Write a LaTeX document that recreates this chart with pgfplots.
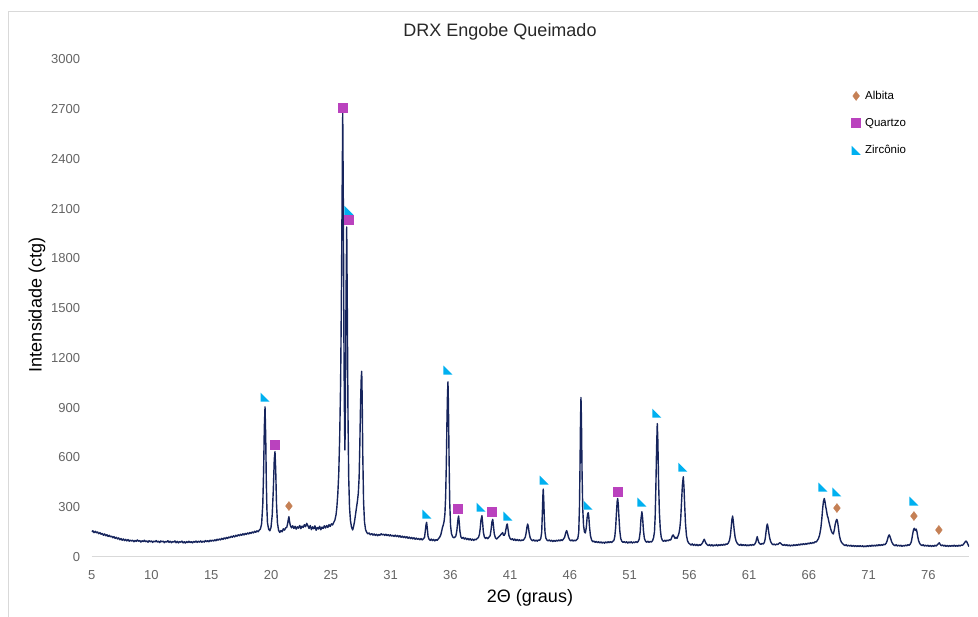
\documentclass[border=0pt]{standalone}
\usepackage{fontspec}
\setmainfont{Liberation Sans}
\usepackage{pgfplots}
\pgfplotsset{compat=1.18}
\usetikzlibrary{plotmarks}
\definecolor{lineblue}{RGB}{22,36,92}
\definecolor{albita}{RGB}{197,128,85}
\definecolor{quartzo}{RGB}{186,66,190}
\definecolor{zirc}{RGB}{0,176,240}
\definecolor{tickgray}{RGB}{100,100,100}
\definecolor{bordergray}{RGB}{217,217,217}
\definecolor{titlegray}{RGB}{40,40,40}
\pgfdeclareplotmark{rtri}{%
  \pgfpathmoveto{\pgfqpoint{-\pgfplotmarksize}{\pgfplotmarksize}}%
  \pgfpathlineto{\pgfqpoint{-\pgfplotmarksize}{-\pgfplotmarksize}}%
  \pgfpathlineto{\pgfqpoint{\pgfplotmarksize}{-\pgfplotmarksize}}%
  \pgfpathclose\pgfusepathqfill}
\begin{document}
\begin{tikzpicture}[x=1pt,y=1pt]
\useasboundingbox (0,0) rectangle (978,617);
\draw[bordergray, line width=1pt] (8,-5) -- (8,605) -- (990,605);
\node[font=\fontsize{18}{21}\selectfont, text=titlegray] at (500,585) {DRX Engobe Queimado};
\node[font=\fontsize{18}{21}\selectfont] at (530,19) {2Θ (graus)};
\node[font=\fontsize{18}{21}\selectfont, rotate=90] at (37,312) {Intensidade (ctg)};
\begin{axis}[
  at={(91.7pt,60pt)}, anchor=south west, scale only axis,
  width=877.3pt, height=497.5pt,
  xmin=5, xmax=79.86, ymin=0, ymax=3000,
  axis line style={draw=none},
  major tick length=0pt,
  xtick={5,10.1,15.2,20.3,25.4,30.5,35.6,40.7,45.8,50.9,56,61.1,66.2,71.3,76.4},
  xticklabels={5,10,15,20,25,31,36,41,46,51,56,61,66,71,76},
  ytick={0,300,600,900,1200,1500,1800,2100,2400,2700,3000},
  /pgf/number format/1000 sep={},
  /pgf/number format/assume math mode=true,
  ticklabel style={font=\fontsize{13}{15}\selectfont, text=tickgray},
  xticklabel style={yshift=-10pt},
  yticklabel style={xshift=-8pt},
  legend style={at={(0.866,0.94)}, anchor=north west, draw=none, fill=none,
    font=\fontsize{11.5}{13}\selectfont, row sep=14.5pt, column sep=3pt, inner sep=0pt,
    nodes={inner sep=1.5pt}},
  legend cell align=left,
  legend image code/.code={\draw[#1] plot coordinates {(0pt,0pt)};},
]
\draw[bordergray, line width=1pt] (rel axis cs:0,0) -- (rel axis cs:1,0);
\addplot[lineblue, line width=1.4pt, line join=round, forget plot] coordinates {
(5.0,152)(5.1,158)(5.2,147)(5.3,155)(5.4,146)(5.5,151)(5.6,140)(5.7,147)(5.8,137)(5.9,142)
(6.0,131)(6.1,139)(6.2,128)(6.3,134)(6.4,124)(6.5,131)(6.6,121)(6.7,126)(6.8,116)(6.9,123)
(7.0,112)(7.1,119)(7.2,109)(7.3,115)(7.4,104)(7.5,111)(7.6,101)(7.7,109)(7.8,99)(7.9,106)
(8.0,97)(8.1,105)(8.2,95)(8.3,102)(8.4,96)(8.5,101)(8.6,92)(8.7,100)(8.8,94)(8.9,103)
(9.0,95)(9.1,99)(9.2,90)(9.3,98)(9.4,93)(9.5,101)(9.6,92)(9.7,97)(9.8,89)(9.9,98)
(10.0,92)(10.1,97)(10.2,88)(10.3,96)(10.4,91)(10.5,99)(10.6,90)(10.7,95)(10.8,87)(10.9,97)
(11.0,91)(11.1,96)(11.2,86)(11.3,94)(11.4,90)(11.5,98)(11.6,88)(11.7,95)(11.8,86)(11.9,93)
(12.0,90)(12.1,97)(12.2,86)(12.3,94)(12.4,85)(12.5,93)(12.6,89)(12.7,96)(12.8,85)(12.9,92)
(13.0,84)(13.1,93)(13.2,87)(13.3,95)(13.4,87)(13.5,93)(13.6,85)(13.7,94)(13.8,89)(13.9,96)
(14.0,88)(14.1,95)(14.2,89)(14.3,97)(14.4,89)(14.5,96)(14.6,90)(14.7,99)(14.8,92)(14.9,98)
(15.0,92)(15.1,101)(15.2,95)(15.3,102)(15.4,96)(15.5,104)(15.6,98)(15.7,107)(15.8,101)(15.9,109)
(16.0,103)(16.1,112)(16.2,106)(16.3,115)(16.4,109)(16.5,118)(16.6,112)(16.7,121)(16.8,116)(16.9,125)
(17.0,119)(17.1,128)(17.2,121)(17.3,131)(17.4,125)(17.5,134)(17.6,128)(17.7,137)(17.8,131)(17.9,140)
(18.0,133)(18.1,142)(18.2,136)(18.3,145)(18.4,139)(18.5,148)(18.6,142)(18.7,151)(18.8,145)(18.9,155)
(19.0,149)(19.1,158)(19.2,152)(19.3,162)(19.4,170)
(19.5,200)(19.6,320)(19.67,520)(19.73,780)(19.79,905)(19.85,720)(19.9,450)(19.95,290)(20.0,205)
(20.1,168)(20.2,158)(20.3,178)(20.4,250)(20.5,410)(20.58,590)(20.64,635)(20.7,530)(20.77,320)
(20.85,205)(20.95,160)(21.05,148)(21.15,160)(21.25,152)(21.35,170)(21.45,162)(21.55,175)(21.65,180)
(21.73,205)(21.78,228)(21.83,243)(21.88,215)(21.95,190)(22.05,176)(22.15,188)(22.25,172)(22.35,185)
(22.45,168)(22.55,182)(22.65,174)(22.75,190)(22.85,171)(22.95,186)(23.05,178)(23.15,195)(23.25,183)
(23.35,203)(23.45,188)(23.55,172)(23.65,190)(23.75,165)(23.85,182)(23.95,170)(24.05,188)(24.15,161)
(24.25,178)(24.35,169)(24.45,185)(24.55,164)(24.65,180)(24.75,172)(24.85,188)(24.95,175)(25.05,190)
(25.15,178)(25.25,195)(25.35,184)(25.45,200)(25.55,193)(25.65,208)(25.75,222)(25.85,255)(25.92,300)
(26.0,380)(26.08,500)(26.16,720)(26.24,1050)(26.3,1500)(26.36,2100)(26.42,2675)(26.47,2150)
(26.53,1200)(26.58,760)(26.61,645)(26.65,950)(26.7,1550)(26.76,1990)(26.81,1500)(26.87,850)
(26.93,480)(27.0,300)(27.08,220)(27.17,180)(27.27,163)(27.35,185)(27.43,215)(27.52,260)(27.6,300)
(27.68,340)(27.75,385)(27.82,480)(27.88,680)(27.94,920)(28.0,1080)(28.04,1120)(28.08,960)
(28.13,620)(28.2,330)(28.28,210)(28.37,165)(28.47,148)(28.57,140)(28.67,145)(28.77,134)
(28.9,141)(29.0,132)(29.1,139)(29.2,130)(29.3,137)(29.4,128)(29.5,136)(29.6,131)(29.7,140)(29.8,133)
(29.9,138)(30.0,130)(30.1,137)(30.2,129)(30.3,135)(30.4,127)(30.5,134)(30.6,126)(30.7,131)(30.8,124)
(30.9,132)(31.0,123)(31.1,130)(31.2,121)(31.3,128)(31.4,119)(31.5,126)(31.6,117)(31.7,124)(31.8,115)
(31.9,122)(32.0,113)(32.1,120)(32.2,111)(32.3,118)(32.4,109)(32.5,116)(32.6,107)(32.7,114)(32.8,106)
(32.9,112)(33.0,104)(33.1,111)(33.2,103)(33.3,110)(33.4,118)(33.48,165)(33.53,195)(33.58,209)
(33.64,170)(33.7,125)(33.78,108)(33.88,100)(33.98,108)(34.08,99)(34.18,106)(34.28,97)(34.38,105)
(34.48,100)(34.58,110)(34.68,118)(34.78,132)(34.86,155)(34.93,178)(35.0,193)(35.07,215)(35.14,260)
(35.2,360)(35.26,560)(35.31,800)(35.36,980)(35.4,1056)(35.44,920)(35.49,620)(35.55,330)(35.62,190)
(35.7,140)(35.8,122)(35.9,116)(36.0,120)(36.08,128)(36.16,160)(36.23,210)(36.28,240)(36.31,247)
(36.36,210)(36.42,155)(36.5,122)(36.6,112)(36.7,118)(36.8,108)(36.9,115)(37.0,105)(37.1,112)
(37.2,103)(37.3,110)(37.4,101)(37.5,108)(37.6,100)(37.7,107)(37.8,104)(37.9,112)(38.0,118)
(38.08,135)(38.15,170)(38.22,225)(38.3,249)(38.36,205)(38.42,150)(38.5,122)(38.6,112)(38.7,118)
(38.8,110)(38.9,120)(39.0,128)(39.08,165)(39.15,210)(39.22,227)(39.28,190)(39.35,140)(39.45,115)
(39.55,108)(39.65,115)(39.75,122)(39.85,130)(39.95,138)(40.02,143)(40.07,147)(40.13,132)(40.2,130)
(40.28,142)(40.35,168)(40.41,192)(40.46,199)(40.52,170)(40.6,130)(40.7,112)(40.8,104)(40.9,110)
(41.0,101)(41.1,108)(41.2,99)(41.3,106)(41.4,98)(41.5,104)(41.6,97)(41.7,103)(41.8,100)(41.9,108)
(42.0,120)(42.07,145)(42.14,180)(42.2,199)(42.26,182)(42.33,145)(42.42,115)(42.52,103)(42.62,98)
(42.72,104)(42.82,96)(42.92,102)(43.02,95)(43.12,103)(43.22,100)(43.32,112)(43.4,150)(43.46,280)
(43.5,370)(43.53,410)(43.57,350)(43.62,240)(43.68,150)(43.75,115)(43.85,102)(43.95,97)(44.05,103)
(44.15,95)(44.25,101)(44.35,93)(44.45,100)(44.55,94)(44.65,101)(44.75,96)(44.85,103)(44.95,97)
(45.05,104)(45.15,99)(45.25,108)(45.35,118)(45.43,140)(45.48,152)(45.53,159)(45.6,143)(45.68,120)
(45.78,104)(45.88,97)(45.98,103)(46.08,96)(46.18,102)(46.28,97)(46.38,104)(46.48,112)(46.56,150)
(46.62,300)(46.67,560)(46.71,820)(46.75,962)(46.79,830)(46.84,520)(46.9,290)(46.97,190)(47.05,150)
(47.12,145)(47.2,175)(47.27,235)(47.33,262)(47.37,267)(47.42,240)(47.48,180)(47.56,128)(47.66,102)
(47.76,92)(47.86,96)(47.96,88)(48.06,94)(48.16,86)(48.26,92)(48.36,85)(48.46,91)(48.56,84)
(48.66,90)(48.76,83)(48.86,91)(48.96,85)(49.06,92)(49.16,86)(49.26,93)(49.36,87)(49.46,94)
(49.56,100)(49.64,125)(49.71,180)(49.78,270)(49.84,335)(49.88,353)(49.93,320)(49.99,240)(50.06,160)
(50.14,112)(50.24,94)(50.34,88)(50.44,93)(50.54,86)(50.64,92)(50.74,84)(50.84,91)(50.94,85)
(51.04,92)(51.14,84)(51.24,91)(51.34,86)(51.44,93)(51.54,87)(51.64,95)(51.72,108)(51.8,150)
(51.87,230)(51.95,273)(52.01,235)(52.08,160)(52.16,112)(52.26,95)(52.36,89)(52.46,95)(52.56,88)
(52.66,94)(52.76,90)(52.86,99)(52.94,115)(53.02,150)(53.08,240)(53.14,420)(53.2,650)(53.26,805)
(53.31,700)(53.37,460)(53.44,270)(53.52,165)(53.6,118)(53.7,100)(53.8,94)(53.9,101)(54.0,95)
(54.1,102)(54.2,97)(54.3,104)(54.4,102)(54.48,115)(54.55,128)(54.62,133)(54.7,122)(54.78,112)
(54.86,118)(54.94,112)(55.02,125)(55.1,140)(55.18,170)(55.26,230)(55.33,330)(55.4,430)(55.48,484)
(55.54,420)(55.6,310)(55.67,200)(55.75,130)(55.84,98)(55.94,84)(56.04,78)(56.14,72)(56.24,79)
(56.34,70)(56.44,77)(56.54,69)(56.64,76)(56.74,68)(56.84,75)(56.94,70)(57.04,78)(57.12,85)
(57.2,98)(57.27,107)(57.34,95)(57.42,82)(57.52,74)(57.62,68)(57.72,75)(57.82,67)(57.92,74)
(58.02,66)(58.12,73)(58.22,68)(58.32,75)(58.42,67)(58.52,74)(58.62,69)(58.72,76)(58.82,70)
(58.92,77)(59.02,72)(59.12,79)(59.22,76)(59.32,84)(59.42,100)(59.5,130)(59.57,180)(59.63,225)
(59.69,247)(59.75,215)(59.82,165)(59.9,120)(59.99,95)(60.09,82)(60.19,75)(60.29,70)(60.39,77)
(60.49,69)(60.59,75)(60.69,68)(60.79,74)(60.89,67)(60.99,73)(61.09,68)(61.19,75)(61.29,69)
(61.39,76)(61.49,71)(61.59,79)(61.67,90)(61.74,110)(61.79,123)(61.85,105)(61.92,88)(62.0,80)
(62.1,76)(62.2,82)(62.3,78)(62.4,88)(62.47,110)(62.54,150)(62.6,185)(62.65,199)(62.7,185)
(62.77,150)(62.85,115)(62.94,92)(63.04,80)(63.14,74)(63.24,78)(63.34,72)(63.44,78)(63.54,75)
(63.64,82)(63.73,86)(63.82,80)(63.92,74)(64.02,70)(64.12,76)(64.22,68)(64.32,74)(64.42,67)
(64.52,73)(64.62,66)(64.72,72)(64.82,67)(64.92,74)(65.02,68)(65.12,75)(65.22,70)(65.32,77)
(65.42,72)(65.52,79)(65.62,74)(65.72,80)(65.82,75)(65.92,82)(66.02,77)(66.12,84)(66.22,79)
(66.32,86)(66.42,81)(66.52,88)(66.62,84)(66.72,92)(66.82,90)(66.92,100)(67.02,112)(67.12,135)
(67.22,175)(67.3,230)(67.37,290)(67.44,335)(67.51,353)(67.57,335)(67.63,305)(67.7,280)(67.77,250)
(67.84,235)(67.91,210)(67.98,190)(68.06,168)(68.14,152)(68.21,143)(68.28,139)(68.36,160)(68.44,195)
(68.52,218)(68.58,227)(68.64,215)(68.71,180)(68.79,135)(68.88,105)(68.98,88)(69.08,80)(69.18,74)
(69.28,68)(69.38,74)(69.48,66)(69.58,72)(69.68,65)(69.78,71)(69.88,64)(69.98,70)(70.08,63)
(70.18,69)(70.28,62)(70.38,68)(70.48,63)(70.58,69)(70.68,62)(70.78,68)(70.88,61)(70.98,67)
(71.08,62)(71.18,69)(71.28,63)(71.38,70)(71.48,64)(71.58,71)(71.68,65)(71.78,72)(71.88,66)
(71.98,73)(72.08,67)(72.18,74)(72.28,68)(72.38,75)(72.48,70)(72.58,77)(72.68,74)(72.78,82)
(72.86,95)(72.94,115)(73.0,128)(73.05,133)(73.11,125)(73.18,110)(73.26,92)(73.35,80)(73.45,72)
(73.55,68)(73.65,74)(73.75,66)(73.85,72)(73.95,65)(74.05,71)(74.15,64)(74.25,70)(74.35,66)
(74.45,72)(74.55,67)(74.65,74)(74.75,70)(74.85,78)(74.93,90)(75.0,115)(75.07,145)(75.13,165)
(75.19,173)(75.24,165)(75.29,160)(75.35,168)(75.41,155)(75.48,125)(75.56,98)(75.65,82)(75.75,74)
(75.85,68)(75.95,74)(76.05,66)(76.15,72)(76.25,65)(76.35,71)(76.45,64)(76.55,70)(76.65,63)
(76.75,69)(76.85,64)(76.95,71)(77.05,66)(77.15,73)(77.22,78)(77.32,86)(77.4,76)(77.5,68)
(77.6,73)(77.7,65)(77.8,71)(77.9,64)(78.0,70)(78.1,63)(78.2,69)(78.3,64)(78.4,70)(78.5,65)
(78.6,71)(78.7,64)(78.8,70)(78.9,65)(79.0,71)(79.1,66)(79.2,72)(79.3,70)(79.4,78)(79.5,88)
(79.6,96)(79.68,90)(79.76,78)(79.86,62)
};
\addplot[only marks, mark=diamond*, mark size=4.5pt, color=albita, mark options={draw=albita,fill=albita}] coordinates {
(21.83,307)(68.59,295)(75.16,247)(77.29,163)};
\addlegendentry{Albita}
\addplot[only marks, mark=square*, mark size=4.5pt, color=quartzo, mark options={draw=quartzo,fill=quartzo}] coordinates {
(26.38,2709)(26.95,2036)(20.64,675)(36.25,289)(39.16,271)(49.88,392)};
\addlegendentry{Quartzo}
\addplot[only marks, mark=rtri, mark size=4.5pt, color=zirc, mark options={fill=zirc}] coordinates {
(19.79,964)(26.95,2090)(35.40,1127)(33.61,259)(38.22,301)(40.52,247)(43.6,464)(47.35,313)
(51.95,331)(53.22,867)(55.44,542)(67.4,422)(68.59,392)(75.16,337)};
\addlegendentry{Zircônio}
\end{axis}
\end{tikzpicture}
\end{document}
